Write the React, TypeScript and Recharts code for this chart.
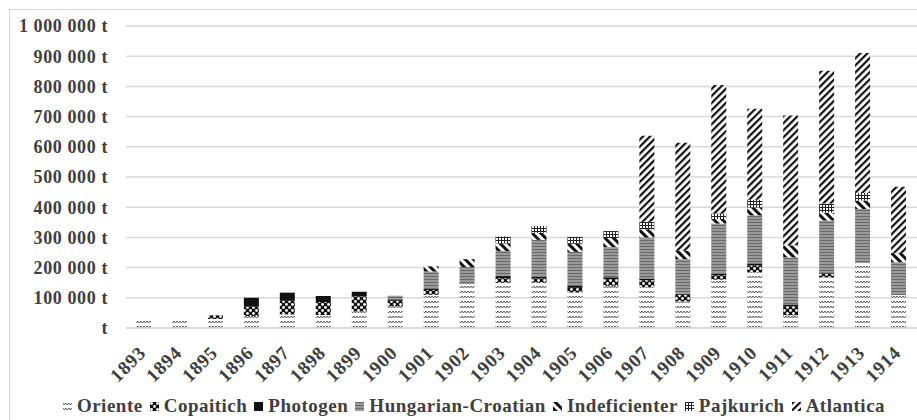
import React from 'react';
import { BarChart, Bar, XAxis, YAxis, CartesianGrid, Legend } from 'recharts';

const years = ['1893', '1894', '1895', '1896', '1897', '1898', '1899', '1900', '1901', '1902', '1903', '1904', '1905', '1906', '1907', '1908', '1909', '1910', '1911', '1912', '1913', '1914'];

const oriente = [30000, 30000, 30000, 40000, 45000, 43000, 55000, 72000, 110000, 145000, 150000, 150000, 118000, 140000, 136000, 88000, 160000, 185000, 42000, 168000, 215000, 109000];
const copaitich = [0, 0, 12000, 30000, 45000, 43000, 50000, 18000, 16000, 0, 15000, 14000, 15000, 22000, 22000, 22000, 15000, 22000, 30000, 12000, 0, 0];
const photogen = [0, 0, 0, 30000, 27000, 20000, 15000, 5000, 5000, 0, 7000, 6000, 6000, 6000, 6000, 3000, 5000, 7000, 6000, 4000, 0, 0];
const hungarianCroatian = [0, 0, 0, 0, 0, 0, 0, 12000, 56000, 57000, 83000, 122000, 113000, 100000, 136000, 115000, 166000, 159000, 156000, 172000, 179000, 109000];
const indeficienter = [0, 0, 0, 0, 0, 0, 0, 0, 17000, 26000, 25000, 23000, 27000, 30000, 27000, 28000, 15000, 26000, 40000, 26000, 28000, 30000];
const pajkurich = [0, 0, 0, 0, 0, 0, 0, 0, 0, 0, 23000, 23000, 23000, 23000, 25000, 0, 18000, 26000, 0, 30000, 25000, 0];
const atlantica = [0, 0, 0, 0, 0, 0, 0, 0, 0, 0, 0, 0, 0, 0, 285000, 357000, 426000, 301000, 430000, 440000, 464000, 220000];

const yTicks = [0, 100000, 200000, 300000, 400000, 500000, 600000, 700000, 800000, 900000, 1000000];

const series = [
  { key: 'Oriente', values: oriente, fill: 'url(#pOriente)' },
  { key: 'Copaitich', values: copaitich, fill: 'url(#pCopaitich)' },
  { key: 'Photogen', values: photogen, fill: '#111111' },
  { key: 'Hungarian-Croatian', values: hungarianCroatian, fill: 'url(#pHungarian)' },
  { key: 'Indeficienter', values: indeficienter, fill: 'url(#pIndef)' },
  { key: 'Pajkurich', values: pajkurich, fill: 'url(#pPajkurich)' },
  { key: 'Atlantica', values: atlantica, fill: 'url(#pAtlantica)' },
];

const data = years.map((y, i) => {
  const row: Record<string, string | number> = { year: y };
  series.forEach((s) => {
    row[s.key] = s.values[i];
  });
  return row;
});

const FONT = '"Liberation Serif", "Times New Roman", serif';
const TEXT = '#404040';

const fmtY = (v: number) => {
  if (v === 0) return 't';
  const s = String(v).replace(/\B(?=(\d{3})+(?!\d))/g, ' ');
  return s + ' t';
};

const XTick = (props: any) => {
  const { x, y, payload } = props;
  return (
    <g transform={`translate(${x + 3},${y + 18})`}>
      <text
        x={0}
        y={0}
        textAnchor="end"
        transform="rotate(-45)"
        fill={TEXT}
        style={{ fontFamily: FONT, fontWeight: 700, fontSize: 19, letterSpacing: 0.8 }}
      >
        {payload.value}
      </text>
    </g>
  );
};

const LegendContent = () => (
  <div
    style={{
      display: 'flex',
      justifyContent: 'center',
      alignItems: 'center',
      height: 24,
      fontFamily: FONT,
      fontWeight: 700,
      fontSize: 19,
      color: TEXT,
      letterSpacing: 0.5,
      paddingLeft: 38,
    }}
  >
    {series.map((s) => (
      <span key={s.key} style={{ display: 'inline-flex', alignItems: 'center', marginRight: 7 }}>
        <svg width={9} height={9} style={{ marginRight: 5 }}>
          <rect x={0} y={0} width={9} height={9} fill={s.fill} />
        </svg>
        {s.key}
      </span>
    ))}
  </div>
);

export default function App() {
  return (
    <div style={{ position: 'absolute', left: 0, top: 0, width: 917, height: 420, overflow: 'hidden', background: '#fff' }}>
      <svg width={0} height={0} style={{ position: 'absolute' }}>
        <defs>
          <pattern id="pOriente" patternUnits="userSpaceOnUse" width={3} height={5}>
            <rect width={3} height={5} fill="#fff" />
            <path d="M0 1 L1.5 3 L3 1" stroke="#444" strokeWidth={0.9} fill="none" />
          </pattern>
          <pattern id="pCopaitich" patternUnits="userSpaceOnUse" width={6} height={6}>
            <rect width={6} height={6} fill="#111" />
            <circle cx={1.5} cy={1.5} r={1.4} fill="#fff" />
            <circle cx={4.5} cy={4.5} r={1.4} fill="#fff" />
          </pattern>
          <pattern id="pHungarian" patternUnits="userSpaceOnUse" width={4} height={3}>
            <rect width={4} height={3} fill="#9a9a9a" />
            <rect y={0} width={4} height={1} fill="#6a6a6a" />
          </pattern>
          <pattern id="pIndef" patternUnits="userSpaceOnUse" width={6} height={6} patternTransform="rotate(-45)">
            <rect width={6} height={6} fill="#fff" />
            <rect width={3} height={6} fill="#111" />
          </pattern>
          <pattern id="pPajkurich" patternUnits="userSpaceOnUse" width={3} height={3}>
            <rect width={3} height={3} fill="#fff" />
            <rect width={3} height={1} fill="#222" />
            <rect width={1} height={3} fill="#222" />
          </pattern>
          <pattern id="pAtlantica" patternUnits="userSpaceOnUse" width={5} height={5} patternTransform="rotate(45)">
            <rect width={5} height={5} fill="#fff" />
            <rect width={2.2} height={5} fill="#111" />
          </pattern>
        </defs>
      </svg>
      <div style={{ position: 'absolute', left: 9, top: 9, width: 940, height: 440, border: '1px solid #d9d9d9' }} />
      <div style={{ position: 'absolute', left: 0, top: 0 }}>
        <BarChart width={917} height={420} data={data} margin={{ top: 26, right: 0, left: 0, bottom: 2 }} barSize={15}>
          <CartesianGrid vertical={false} stroke="#d9d9d9" strokeWidth={1.5} />
          <XAxis
            dataKey="year"
            height={66}
            tick={<XTick />}
            tickLine={false}
            axisLine={{ stroke: '#d9d9d9', strokeWidth: 1.5 }}
            interval={0}
          />
          <YAxis
            width={126}
            domain={[0, 1000000]}
            ticks={yTicks}
            tickFormatter={fmtY}
            tickLine={false}
            axisLine={false}
            tickSize={0}
            tickMargin={18}
            tick={{ fill: TEXT, fontFamily: FONT, fontWeight: 700, fontSize: 18, letterSpacing: 0.6 }}
            interval={0}
          />
          <Legend verticalAlign="bottom" content={<LegendContent />} />
          {series.map((s) => (
            <Bar key={s.key} dataKey={s.key} stackId="a" fill={s.fill} isAnimationActive={false} />
          ))}
        </BarChart>
      </div>
    </div>
  );
}
